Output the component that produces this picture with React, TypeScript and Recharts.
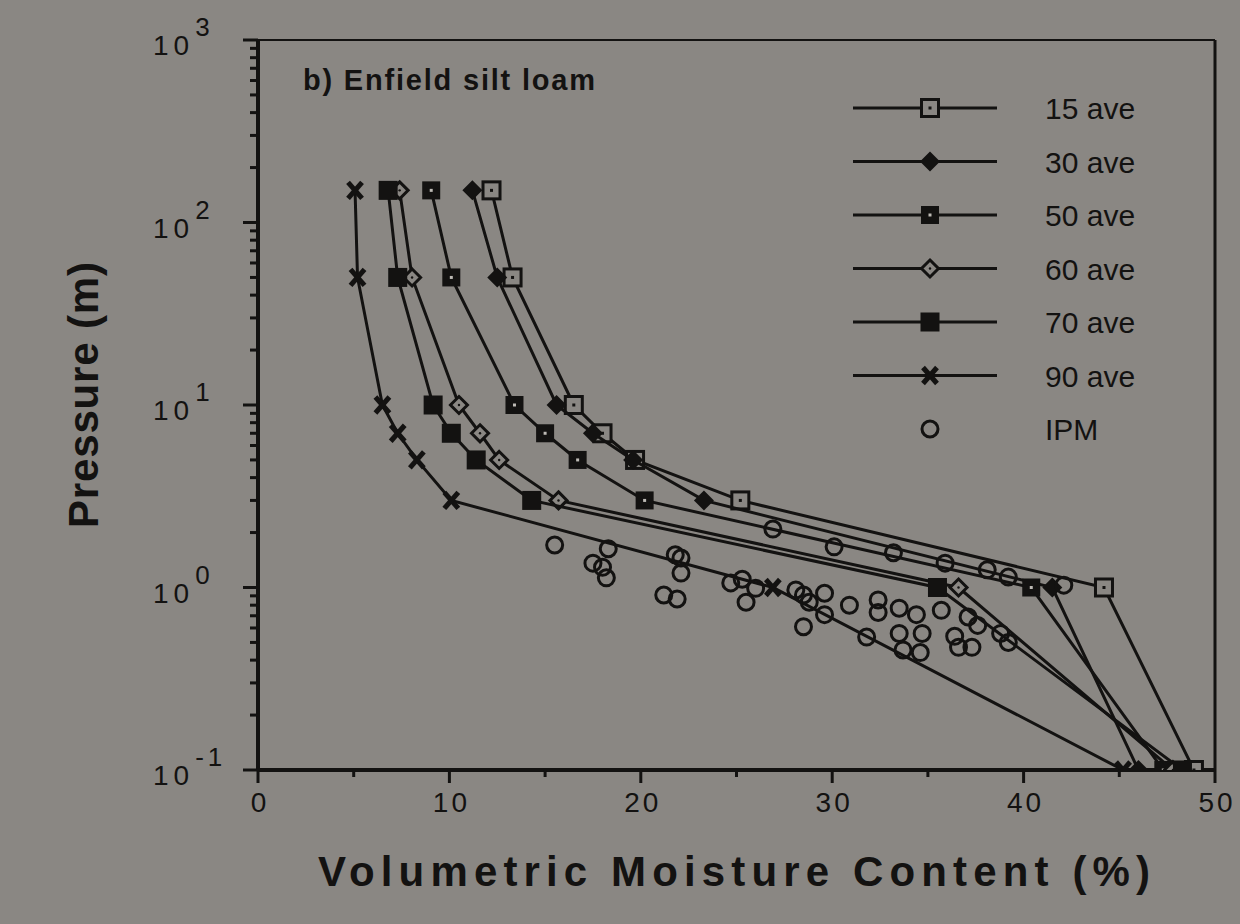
import React from "react";
import { ScatterChart, Scatter, XAxis, YAxis, ReferenceLine, Legend, Label } from "recharts";

// suction heads (m) at which each depth-averaged curve was measured
const pressures = [150, 50, 10, 7, 5, 3, 1, 0.1];

// volumetric moisture content (%) per depth average, same order as pressures
const ave15 = [12.2, 13.3, 16.5, 18.0, 19.7, 25.2, 44.2, 48.9];
const ave30 = [11.2, 12.5, 15.6, 17.5, 19.6, 23.3, 41.5, 46.0];
const ave50 = [9.05, 10.1, 13.4, 15.0, 16.7, 20.2, 40.4, 47.3];
const ave60 = [7.4, 8.05, 10.5, 11.6, 12.6, 15.7, 36.6, 47.8];
const ave70 = [6.8, 7.3, 9.15, 10.1, 11.4, 14.3, 35.5, 48.3];
const ave90 = [5.07, 5.2, 6.5, 7.3, 8.3, 10.1, 26.9, 45.2];

// in-place measurements (IPM)
const ipmMoisture = [
  15.5, 18.3, 17.5, 18.0, 18.2, 21.8, 22.1, 22.1, 21.2, 21.9,
  24.7, 25.3, 26.0, 25.5, 28.1, 28.5, 28.8, 29.6, 29.6, 28.5,
  30.9, 32.4, 32.4, 33.5, 31.8, 33.5, 33.7, 34.6, 34.7, 34.4,
  35.7, 37.1, 37.6, 36.6, 37.3, 38.8, 39.2, 36.4, 26.9, 30.1,
  33.2, 35.9, 38.1, 39.2, 42.1,
];
const ipmPressure = [
  1.71, 1.63, 1.36, 1.29, 1.13, 1.51, 1.45, 1.2, 0.91, 0.865,
  1.06, 1.11, 0.99, 0.83, 0.97, 0.91, 0.83, 0.93, 0.71, 0.61,
  0.8, 0.855, 0.73, 0.77, 0.535, 0.56, 0.455, 0.44, 0.56, 0.71,
  0.75, 0.69, 0.62, 0.47, 0.47, 0.56, 0.5, 0.54, 2.09, 1.67,
  1.55, 1.36, 1.25, 1.14, 1.03,
];

const xTicks = [0, 5, 10, 15, 20, 25, 30, 35, 40, 45, 50];
const yDecades = [0.1, 1, 10, 100, 1000];
const yExponents = ["-1", "0", "1", "2", "3"];
const yTicks = yDecades.flatMap((d, i) =>
  i === yDecades.length - 1 ? [d] : [1, 2, 3, 4, 5, 6, 7, 8, 9].map((k) => +(d * k).toPrecision(3))
);

const INK = "#131211";
const BG = "#8a8783";
const FONT = "'Liberation Sans', Arial, Helvetica, sans-serif";

type Kind = "openSquare" | "diamond" | "dotSquare" | "openDiamond" | "square" | "cross" | "circle";

function Marker({ kind, cx, cy }: { kind: Kind; cx: number; cy: number }) {
  switch (kind) {
    case "openSquare":
      return (
        <g>
          <rect x={cx - 8.5} y={cy - 8.5} width={17} height={17} fill={BG} stroke={INK} strokeWidth={3} />
          <rect x={cx - 1.5} y={cy - 1.5} width={3} height={3} fill={INK} />
        </g>
      );
    case "diamond":
      return <polygon points={`${cx},${cy - 10} ${cx + 10},${cy} ${cx},${cy + 10} ${cx - 10},${cy}`} fill={INK} />;
    case "dotSquare":
      return (
        <g>
          <rect x={cx - 9} y={cy - 9} width={18} height={18} fill={INK} />
          <rect x={cx - 1.5} y={cy - 1.5} width={3} height={3} fill="#bdbab5" />
        </g>
      );
    case "openDiamond":
      return (
        <g>
          <polygon points={`${cx},${cy - 8.5} ${cx + 8.5},${cy} ${cx},${cy + 8.5} ${cx - 8.5},${cy}`} fill={BG} stroke={INK} strokeWidth={3} />
          <circle cx={cx} cy={cy} r={1.2} fill={INK} />
        </g>
      );
    case "square":
      return <rect x={cx - 9.5} y={cy - 9.5} width={19} height={19} fill={INK} />;
    case "cross":
      return (
        <g stroke={INK} strokeWidth={5} strokeLinecap="butt">
          <line x1={cx - 7} y1={cy - 8} x2={cx + 7} y2={cy + 8} />
          <line x1={cx - 7} y1={cy + 8} x2={cx + 7} y2={cy - 8} />
        </g>
      );
    default:
      return <circle cx={cx} cy={cy} r={8} fill="none" stroke={INK} strokeWidth={3} />;
  }
}

const series: { name: string; values: number[]; kind: Kind }[] = [
  { name: "15 ave", values: ave15, kind: "openSquare" },
  { name: "30 ave", values: ave30, kind: "diamond" },
  { name: "50 ave", values: ave50, kind: "dotSquare" },
  { name: "60 ave", values: ave60, kind: "openDiamond" },
  { name: "70 ave", values: ave70, kind: "square" },
  { name: "90 ave", values: ave90, kind: "cross" },
];

const ipmData = ipmMoisture.map((m, i) => ({ x: m, y: ipmPressure[i] }));

const isDecade = (v: number) => Math.abs(Math.log10(v) - Math.round(Math.log10(v))) < 1e-6;

function YTick(props: any) {
  const { x, y, payload } = props;
  const v = payload.value as number;
  const major = isDecade(v);
  const i = yDecades.findIndex((d) => Math.abs(d - v) < 1e-9);
  return (
    <g>
      <line x1={x} x2={x - (major ? 15 : 8)} y1={y} y2={y} stroke={INK} strokeWidth={3} />
      {major && i >= 0 && (
        <text x={x - 105} y={y + 15} fill={INK} fontFamily={FONT} fontSize={28} letterSpacing={5}>
          10
          <tspan dy={-19} fontSize={26} dx={1} letterSpacing={4}>
            {yExponents[i]}
          </tspan>
        </text>
      )}
    </g>
  );
}

function XTick(props: any) {
  const { x, y, payload } = props;
  const v = payload.value as number;
  const major = v % 10 === 0;
  return (
    <g>
      <line x1={x} x2={x} y1={y} y2={y + (major ? 13 : 7)} stroke={INK} strokeWidth={3} />
      {major && (
        <text x={x + 2} y={y + 42} textAnchor="middle" fill={INK} fontFamily={FONT} fontSize={28} letterSpacing={3}>
          {v}
        </text>
      )}
    </g>
  );
}

function LegendBox() {
  const rowY = (i: number) => 28 + i * 53.5;
  return (
    <svg width={330} height={380}>
      {series.map((s, i) => (
        <g key={s.name}>
          <line x1={13} x2={157} y1={rowY(i)} y2={rowY(i)} stroke={INK} strokeWidth={3} />
          <Marker kind={s.kind} cx={90} cy={rowY(i)} />
          <text x={205} y={rowY(i) + 11} fill={INK} fontFamily={FONT} fontSize={30}>
            {s.name}
          </text>
        </g>
      ))}
      <Marker kind="circle" cx={90} cy={rowY(6)} />
      <text x={205} y={rowY(6) + 11} fill={INK} fontFamily={FONT} fontSize={30}>
        IPM
      </text>
    </svg>
  );
}

export default function App() {
  return (
    <div style={{ position: "absolute", left: 0, top: 0, width: 1240, height: 924, background: BG }}>
      <ScatterChart width={1240} height={924} margin={{ top: 40, right: 25, left: 0, bottom: 0 }}>
        <XAxis
          type="number"
          dataKey="x"
          domain={[0, 50]}
          ticks={xTicks}
          interval={0}
          height={154}
          tickSize={0}
          tickMargin={0}
          axisLine={{ stroke: INK, strokeWidth: 4 }}
          tickLine={false}
          tick={<XTick />}
        >
          <Label
            content={() => (
              <text x={318} y={886} textLength={832} lengthAdjust="spacing" fill={INK} fontFamily={FONT} fontWeight="bold" fontSize={42}>
                Volumetric Moisture Content (%)
              </text>
            )}
          />
        </XAxis>
        <YAxis
          type="number"
          dataKey="y"
          scale="log"
          domain={[0.1, 1000]}
          allowDataOverflow
          ticks={yTicks}
          interval={0}
          width={258}
          tickSize={0}
          tickMargin={0}
          axisLine={{ stroke: INK, strokeWidth: 4 }}
          tickLine={false}
          tick={<YTick />}
        >
          <Label
            content={() => (
              <text
                transform="translate(98, 528) rotate(-90)"
                textLength={266}
                lengthAdjust="spacing"
                fill={INK}
                fontFamily={FONT}
                fontWeight="bold"
                fontSize={42}
              >
                Pressure (m)
              </text>
            )}
          />
        </YAxis>
        <ReferenceLine y={1000} stroke={INK} strokeWidth={2} />
        <ReferenceLine x={50} stroke={INK} strokeWidth={3} />
        {series.map((s) => (
          <Scatter
            key={s.name}
            name={s.name}
            data={s.values.map((v, i) => ({ x: v, y: pressures[i] }))}
            line={{ stroke: INK, strokeWidth: 3 }}
            lineType="joint"
            shape={(p: any) => <Marker kind={s.kind} cx={p.cx} cy={p.cy} />}
            isAnimationActive={false}
          />
        ))}
        <Scatter
          name="IPM"
          data={ipmData}
          shape={(p: any) => <Marker kind="circle" cx={p.cx} cy={p.cy} />}
          isAnimationActive={false}
        />
        <Legend
          layout="vertical"
          align="center"
          verticalAlign="middle"
          content={() => <LegendBox />}
          wrapperStyle={{ left: 840, top: 80, width: 330, height: 380 }}
        />
      </ScatterChart>
      <svg style={{ position: "absolute", left: 0, top: 0, pointerEvents: "none" }} width={1240} height={200}>
        <text x={303} y={90} textLength={292} lengthAdjust="spacing" fill={INK} fontFamily={FONT} fontWeight="bold" fontSize={29}>
          b) Enfield silt loam
        </text>
      </svg>
    </div>
  );
}
